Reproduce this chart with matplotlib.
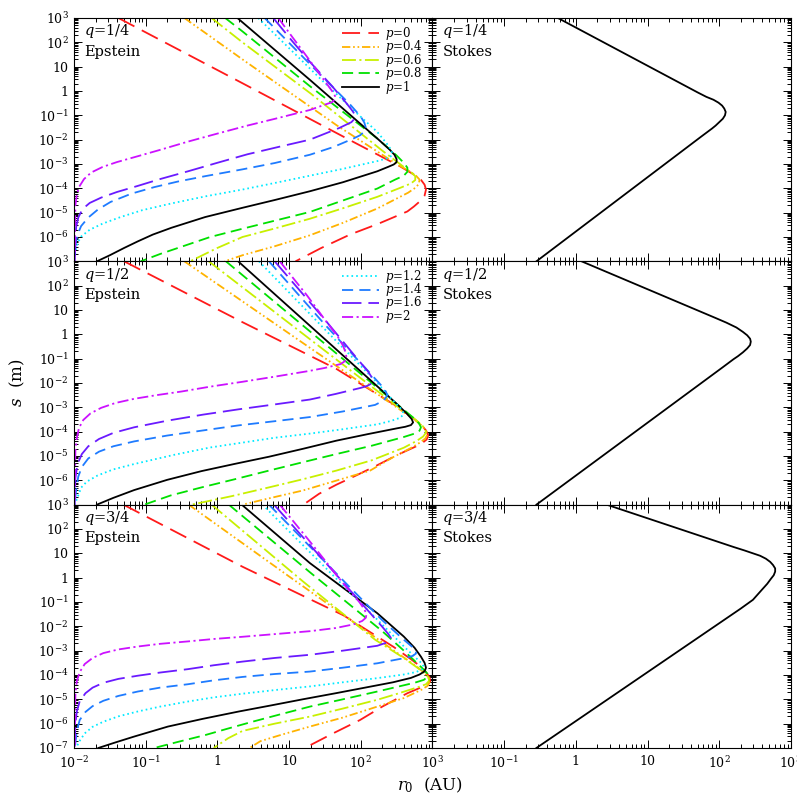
import numpy as np
import matplotlib
matplotlib.use('Agg')
import matplotlib.pyplot as plt
from matplotlib.ticker import LogLocator, FuncFormatter, NullFormatter

plt.rcParams['font.family'] = 'DejaVu Serif'
plt.rcParams['mathtext.fontset'] = 'dejavuserif'
plt.rcParams['lines.scale_dashes'] = False

# p values, styles
P_LABELS = ['0', '0.4', '0.6', '0.8', '1', '1.2', '1.4', '1.6', '2']
COLORS = ['#ff1a1a', '#ffb300', '#c8f000', '#00e000', 'black',
          '#00eaff', '#1e7bff', '#6a1aff', '#cc11ff']
DASHES = [(13, 6), (6, 2, 1.2, 2, 1.2, 2), (10, 2.5, 1.5, 2.5), (8, 4), None,
          (1.2, 2.2), (8, 4.5), (14, 5), (8, 2.5, 1.5, 2.5)]

# curves, as (log10 r0 [AU], log10 s [m])
EPS_Q14 = {
    '0': [(-1.38, 3.0), (0.35, 0.32), (1.85, -2.02), (2.55, -3.1), (2.75, -3.45), (2.84, -3.65),
          (2.89, -3.85), (2.91, -4.05), (2.89, -4.3), (2.83, -4.52), (2.74, -4.75), (2.65, -4.95),
          (2.25, -5.45), (1.85, -5.9), (1.45, -6.45), (1.09, -7.0)],
    '0.4': [(-0.46, 3.0), (0.35, 1.3), (1.66, -1.4), (2.5, -3.0), (2.68, -3.3), (2.77, -3.48),
            (2.82, -3.64), (2.81, -3.82), (2.76, -3.98), (2.66, -4.18), (2.23, -4.83), (1.75, -5.42),
            (1.29, -5.93), (0.8, -6.38), (0.35, -6.75), (0.1, -7.0)],
    '0.6': [(-0.08, 3.0), (0.35, 2.0), (1.30, -0.1), (2.3, -2.45), (2.6, -3.12), (2.7, -3.33),
            (2.76, -3.5), (2.76, -3.66), (2.7, -3.8), (2.55, -3.98), (2.23, -4.35), (1.75, -4.82),
            (1.29, -5.25), (0.8, -5.65), (0.35, -6.0), (0.0, -6.45), (-0.38, -7.0)],
    '0.8': [(0.11, 3.0), (0.35, 2.45), (1.29, 0.2), (2.23, -1.95), (2.5, -2.65), (2.6, -2.95),
            (2.65, -3.15), (2.65, -3.32), (2.6, -3.48), (2.48, -3.64), (2.23, -4.01), (1.75, -4.5),
            (1.29, -4.97), (0.8, -5.33), (0.35, -5.66), (-0.1, -6.0), (-0.5, -6.4), (-0.8, -6.7),
            (-1.07, -7.0)],
    '1': [(0.28, 3.0), (1.29, 0.46), (2.23, -1.95), (2.4, -2.4), (2.47, -2.62), (2.5, -2.8),
          (2.5, -2.92), (2.46, -3.02), (2.38, -3.12), (2.23, -3.3), (1.75, -3.75), (1.29, -4.12),
          (0.8, -4.48), (0.35, -4.8), (-0.17, -5.18), (-0.64, -5.62), (-0.9, -5.9), (-1.11, -6.18),
          (-1.3, -6.45), (-1.5, -6.75), (-1.68, -7.0)],
    '1.2': [(0.57, 3.0), (1.48, 0.38), (1.9, -0.79), (2.23, -1.68), (2.36, -2.15), (2.42, -2.4),
            (2.44, -2.56), (2.42, -2.68), (2.35, -2.78), (2.23, -2.88), (1.75, -3.2), (1.29, -3.48),
            (0.8, -3.78), (0.35, -4.05), (-0.15, -4.32), (-0.64, -4.62), (-1.05, -4.9),
            (-1.35, -5.18), (-1.6, -5.45), (-1.78, -5.7), (-1.9, -5.98), (-1.95, -6.25),
            (-1.98, -6.6), (-1.99, -7.0)],
    '1.4': [(0.66, 3.0), (1.36, 0.9), (1.85, -0.55), (2.0, -1.05), (2.05, -1.3), (2.07, -1.5),
            (2.05, -1.67), (1.99, -1.82), (1.9, -1.95), (1.62, -2.3), (1.29, -2.62), (0.8, -2.96),
            (0.35, -3.22), (-0.17, -3.5), (-0.55, -3.72), (-0.88, -3.95), (-1.2, -4.22),
            (-1.49, -4.56), (-1.67, -4.88), (-1.8, -5.2), (-1.9, -5.55), (-1.95, -5.9),
            (-1.98, -6.3), (-1.99, -7.0)],
    '1.6': [(0.78, 3.0), (1.05, 2.03), (1.29, 1.2), (1.6, 0.2), (1.8, -0.5), (1.88, -0.8),
            (1.92, -0.98), (1.92, -1.12), (1.87, -1.28), (1.7, -1.52), (1.29, -2.0), (0.85, -2.3),
            (0.42, -2.6), (0.0, -2.95), (-0.41, -3.3), (-0.8, -3.62), (-1.11, -3.9), (-1.4, -4.15),
            (-1.62, -4.38), (-1.78, -4.6), (-1.88, -4.85), (-1.94, -5.2), (-1.97, -5.6),
            (-1.99, -7.0)],
    '2': [(0.85, 3.0), (1.05, 2.2), (1.29, 1.25), (1.5, 0.4), (1.6, 0.0), (1.64, -0.2),
          (1.64, -0.35), (1.6, -0.46), (1.52, -0.54), (1.29, -0.78), (0.82, -1.13), (0.42, -1.42),
          (0.0, -1.75), (-0.41, -2.08), (-0.8, -2.42), (-1.11, -2.68), (-1.4, -2.92),
          (-1.6, -3.12), (-1.76, -3.35), (-1.86, -3.62), (-1.93, -3.95), (-1.96, -4.25),
          (-1.98, -4.7), (-1.99, -7.0)],
}

EPS_Q12 = {
    '0': [(-1.30, 3.0), (0.35, 0.5), (1.66, -1.42), (2.5, -2.95), (2.72, -3.42), (2.84, -3.7),
          (2.91, -3.95), (2.94, -4.15), (2.92, -4.32), (2.86, -4.46), (2.79, -4.58), (2.5, -4.97),
          (2.23, -5.38), (1.95, -5.78), (1.66, -6.18), (1.42, -6.55), (1.2, -7.0)],
    '0.4': [(-0.46, 3.0), (1.2, -0.37), (2.55, -3.1), (2.74, -3.48), (2.85, -3.75), (2.91, -3.95),
            (2.93, -4.12), (2.9, -4.28), (2.83, -4.44), (2.72, -4.64), (2.45, -5.05), (2.13, -5.6),
            (1.65, -6.02), (1.19, -6.42), (0.75, -6.72), (0.35, -7.0)],
    '0.6': [(-0.12, 3.0), (1.3, -0.22), (2.55, -3.05), (2.74, -3.45), (2.85, -3.72), (2.9, -3.9),
            (2.91, -4.04), (2.87, -4.2), (2.78, -4.38), (2.6, -4.66), (2.15, -5.18), (1.66, -5.6),
            (1.2, -5.95), (0.72, -6.29), (0.2, -6.65), (-0.36, -7.0)],
    '0.8': [(0.12, 3.0), (1.3, 0.1), (2.6, -3.1), (2.73, -3.42), (2.81, -3.65), (2.84, -3.82),
            (2.82, -3.96), (2.75, -4.08), (2.6, -4.22), (2.15, -4.58), (1.66, -4.92), (1.2, -5.25),
            (0.72, -5.6), (0.25, -5.95), (-0.22, -6.29), (-0.65, -6.62), (-1.02, -7.0)],
    '1': [(0.29, 3.0), (1.5, -0.2), (2.5, -2.85), (2.64, -3.25), (2.71, -3.48), (2.73, -3.62),
          (2.7, -3.73), (2.62, -3.8), (2.51, -3.86), (2.1, -4.1), (1.66, -4.37), (1.2, -4.7),
          (0.72, -5.03), (0.25, -5.32), (-0.22, -5.62), (-0.7, -5.98), (-1.16, -6.4),
          (-1.45, -6.72), (-1.68, -7.0)],
    '1.2': [(0.58, 3.0), (1.5, 0.2), (2.2, -1.9), (2.46, -2.75), (2.55, -3.02), (2.59, -3.2),
            (2.59, -3.32), (2.54, -3.44), (2.42, -3.56), (2.23, -3.7), (1.75, -3.9), (1.29, -4.08),
            (0.8, -4.25), (0.35, -4.45), (-0.1, -4.65), (-0.6, -4.95), (-1.16, -5.33),
            (-1.45, -5.55), (-1.67, -5.8), (-1.82, -6.05), (-1.9, -6.3), (-1.95, -6.7), (-1.99, -7.0)],
    '1.4': [(0.72, 3.0), (1.5, 0.4), (2.1, -1.5), (2.28, -2.08), (2.35, -2.35), (2.37, -2.5),
            (2.34, -2.65), (2.28, -2.78), (2.2, -2.9), (1.75, -3.17), (1.29, -3.4), (0.8, -3.57),
            (0.3, -3.74), (-0.2, -3.95), (-0.7, -4.16), (-1.16, -4.4), (-1.45, -4.6),
            (-1.65, -4.82), (-1.8, -5.1), (-1.89, -5.45), (-1.94, -5.85), (-1.97, -6.4), (-1.99, -7.0)],
    '1.6': [(0.80, 3.0), (1.5, 0.6), (1.95, -1.0), (2.1, -1.52), (2.15, -1.75), (2.17, -1.9),
            (2.15, -2.02), (2.09, -2.12), (2.0, -2.2), (1.65, -2.45), (1.29, -2.68), (0.8, -2.88),
            (0.3, -3.08), (-0.2, -3.3), (-0.7, -3.55), (-1.16, -3.82), (-1.45, -4.05),
            (-1.65, -4.3), (-1.8, -4.6), (-1.89, -4.92), (-1.95, -5.33), (-1.98, -5.9), (-1.99, -7.0)],
    '2': [(0.87, 3.0), (1.25, 1.6), (1.5, 0.6), (1.68, -0.1), (1.75, -0.45), (1.79, -0.75),
          (1.8, -0.95), (1.78, -1.1), (1.72, -1.22), (1.5, -1.38), (1.29, -1.5), (0.8, -1.74),
          (0.35, -1.95), (-0.1, -2.15), (-0.5, -2.35), (-0.85, -2.5), (-1.16, -2.65), (-1.42, -2.82),
          (-1.62, -3.02), (-1.77, -3.25), (-1.87, -3.52), (-1.93, -3.85), (-1.96, -4.25),
          (-1.98, -4.8), (-1.99, -7.0)],
}

EPS_Q34 = {
    '0': [(-1.31, 3.0), (0.35, 0.45), (1.76, -1.55), (2.46, -2.85), (2.7, -3.35), (2.82, -3.62),
          (2.91, -3.88), (2.96, -4.1), (2.97, -4.25), (2.94, -4.38), (2.85, -4.5), (2.65, -4.75),
          (2.3, -5.3), (1.99, -5.85), (1.6, -6.42), (1.22, -7.0)],
    '0.4': [(-0.40, 3.0), (1.0, 0.05), (2.2, -2.45), (2.6, -3.28), (2.78, -3.65), (2.9, -3.95),
            (2.95, -4.15), (2.96, -4.3), (2.93, -4.45), (2.85, -4.6), (2.6, -4.95), (2.23, -5.3),
            (1.75, -5.75), (1.29, -6.12), (0.9, -6.45), (0.6, -6.72), (0.45, -7.0)],
    '0.6': [(-0.08, 3.0), (1.2, -0.17), (2.2, -2.55), (2.6, -3.3), (2.78, -3.68), (2.9, -3.95),
            (2.95, -4.12), (2.95, -4.25), (2.91, -4.38), (2.8, -4.5), (2.5, -4.78), (2.23, -5.02),
            (1.75, -5.38), (1.29, -5.71), (0.8, -6.0), (0.35, -6.3), (0.15, -6.6), (-0.05, -7.0)],
    '0.8': [(0.16, 3.0), (1.3, 0.2), (2.3, -2.2), (2.62, -3.05), (2.78, -3.5), (2.88, -3.78),
            (2.93, -3.95), (2.93, -4.08), (2.88, -4.2), (2.75, -4.32), (2.23, -4.68), (1.75, -5.0),
            (1.29, -5.3), (0.9, -5.6), (0.49, -5.92), (0.15, -6.2), (-0.17, -6.47), (-0.55, -6.75),
            (-0.88, -7.0)],
    '1': [(0.34, 3.0), (1.29, 0.6), (2.23, -1.46), (2.6, -2.42), (2.75, -2.88), (2.84, -3.25),
          (2.89, -3.5), (2.91, -3.7), (2.89, -3.85), (2.82, -3.98), (2.7, -4.12), (2.45, -4.3),
          (2.13, -4.48), (1.65, -4.75), (1.19, -5.0), (0.75, -5.25), (0.3, -5.5), (-0.2, -5.8),
          (-0.69, -6.12), (-1.16, -6.53), (-1.42, -6.77), (-1.66, -7.0)],
    '1.2': [(0.63, 3.0), (1.5, 0.43), (2.3, -1.93), (2.62, -2.88), (2.77, -3.3), (2.85, -3.52),
            (2.88, -3.66), (2.85, -3.78), (2.77, -3.88), (2.6, -3.98), (2.23, -4.13), (1.75, -4.3),
            (1.29, -4.47), (0.8, -4.62), (0.35, -4.77), (-0.05, -4.92), (-0.41, -5.09), (-0.8, -5.3),
            (-1.11, -5.5), (-1.38, -5.7), (-1.59, -5.92), (-1.74, -6.13), (-1.85, -6.4),
            (-1.93, -6.75), (-1.97, -7.0)],
    '1.4': [(0.72, 3.0), (1.5, 0.65), (2.3, -1.75), (2.6, -2.55), (2.72, -2.85), (2.77, -3.0),
            (2.77, -3.12), (2.72, -3.22), (2.62, -3.3), (2.23, -3.52), (1.75, -3.7), (1.29, -3.86),
            (0.8, -3.96), (0.35, -4.08), (-0.05, -4.22), (-0.41, -4.38), (-0.8, -4.52),
            (-1.11, -4.68), (-1.38, -4.86), (-1.59, -5.06), (-1.74, -5.28), (-1.84, -5.52),
            (-1.92, -5.85), (-1.96, -6.3), (-1.98, -6.8), (-1.99, -7.0)],
    '1.6': [(0.79, 3.0), (1.5, 0.65), (2.1, -1.35), (2.3, -2.02), (2.38, -2.3), (2.42, -2.47),
            (2.41, -2.58), (2.36, -2.67), (2.23, -2.8), (1.75, -3.0), (1.29, -3.17), (0.8, -3.3),
            (0.35, -3.45), (-0.05, -3.6), (-0.41, -3.76), (-0.8, -3.9), (-1.11, -4.03),
            (-1.38, -4.16), (-1.59, -4.32), (-1.74, -4.52), (-1.84, -4.75), (-1.92, -5.08),
            (-1.96, -5.5), (-1.98, -6.0), (-1.99, -7.0)],
    '2': [(0.87, 3.0), (1.3, 1.45), (1.8, -0.4), (1.98, -1.0), (2.05, -1.3), (2.08, -1.5),
          (2.07, -1.65), (2.02, -1.78), (1.9, -1.92), (1.65, -2.07), (1.29, -2.2), (0.8, -2.32),
          (0.35, -2.43), (-0.05, -2.52), (-0.41, -2.62), (-0.8, -2.72), (-1.11, -2.83),
          (-1.38, -2.95), (-1.59, -3.1), (-1.74, -3.3), (-1.85, -3.55), (-1.92, -3.88),
          (-1.96, -4.25), (-1.98, -4.8), (-1.99, -7.0)],
}

STOKES_Q14 = [(-0.25, 3.0), (1.7, -0.06), (1.82, -0.24), (1.92, -0.36), (1.99, -0.48),
              (2.04, -0.6), (2.07, -0.72), (2.09, -0.86), (2.08, -1.0), (2.05, -1.14),
              (2.0, -1.28), (1.95, -1.42), (1.9, -1.54), (1.75, -1.87), (-0.55, -7.0)]
STOKES_Q12 = [(0.08, 3.0), (1.95, 0.67), (2.1, 0.48), (2.24, 0.28), (2.33, 0.1), (2.39, -0.04),
              (2.43, -0.18), (2.44, -0.3), (2.43, -0.44), (2.39, -0.58), (2.33, -0.74),
              (2.26, -0.9), (2.2, -1.02), (2.05, -1.35), (-0.55, -7.0)]
STOKES_Q34 = [(0.43, 3.0), (2.2, 1.26), (2.35, 1.12), (2.47, 1.0), (2.57, 0.9), (2.65, 0.78),
              (2.71, 0.65), (2.75, 0.52), (2.78, 0.38), (2.78, 0.25), (2.76, 0.1), (2.72, -0.05),
              (2.67, -0.25), (2.6, -0.48), (2.47, -0.91), (2.3, -1.27), (-0.55, -7.0)]

Q_LABELS = ['1/4', '1/2', '3/4']
EPS_PANELS = [EPS_Q14, EPS_Q12, EPS_Q34]
STOKES_PANELS = [STOKES_Q14, STOKES_Q12, STOKES_Q34]


def tick_fmt(hide):
    def f(v, pos):
        e = int(round(np.log10(v)))
        if e in hide:
            return ''
        if e == 0:
            return '1'
        if e == 1:
            return '10'
        return r'$10^{%d}$' % e
    return f


def style_axes(ax, row, col):
    ax.set_xscale('log')
    ax.set_yscale('log')
    ax.set_xlim(1e-2, 1e3)
    ax.set_ylim(1e-7, 1e3)
    ax.xaxis.set_major_locator(LogLocator(base=10, numticks=20))
    ax.yaxis.set_major_locator(LogLocator(base=10, numticks=20))
    ax.xaxis.set_minor_locator(LogLocator(base=10, subs=np.arange(2, 10), numticks=100))
    ax.yaxis.set_minor_locator(LogLocator(base=10, subs=np.arange(2, 10), numticks=100))
    ax.xaxis.set_minor_formatter(NullFormatter())
    ax.yaxis.set_minor_formatter(NullFormatter())
    ax.tick_params(which='both', direction='in', top=True, right=True, labelsize=9, width=0.7)
    ax.tick_params(which='major', length=6)
    ax.tick_params(which='minor', length=3)
    ax.tick_params(axis='y', pad=4)
    ax.tick_params(axis='x', pad=5)
    if col == 0:
        ax.yaxis.set_major_formatter(FuncFormatter(tick_fmt([] if row == 2 else [-7])))
    else:
        ax.yaxis.set_major_formatter(NullFormatter())
    if row == 2:
        ax.xaxis.set_major_formatter(FuncFormatter(tick_fmt([] if col == 0 else [-2])))
    else:
        ax.xaxis.set_major_formatter(NullFormatter())
    for sp in ax.spines.values():
        sp.set_linewidth(0.8)


fig = plt.figure(figsize=(7.97, 7.97), dpi=100)
L, W = 0.0928, 0.4498
B, H = 0.0615, 0.3053

# hand-placed legend rows (axes fractions)
LEG_ROWS = {0: [0.938, 0.882, 0.827, 0.772, 0.716], 1: [0.938, 0.883, 0.829, 0.773]}

for row in range(3):
    bottom = B + (2 - row) * H
    ax_e = fig.add_axes([L, bottom, W, H])
    ax_s = fig.add_axes([L + W, bottom, W, H])

    curves = EPS_PANELS[row]
    for i, lab in enumerate(P_LABELS):
        pts = np.array(curves[lab])
        line, = ax_e.plot(10 ** pts[:, 0], 10 ** pts[:, 1], color=COLORS[i], lw=1.3)
        if DASHES[i] is not None:
            line.set_dashes(DASHES[i])

    pts = np.array(STOKES_PANELS[row])
    ax_s.plot(10 ** pts[:, 0], 10 ** pts[:, 1], color='black', lw=1.3)

    for ax, name in [(ax_e, 'Epstein'), (ax_s, 'Stokes')]:
        style_axes(ax, row, 0 if ax is ax_e else 1)
        ax.text(0.028, 0.945, r'$q$=' + Q_LABELS[row], transform=ax.transAxes,
                fontsize=10.5, va='center', ha='left')
        ax.text(0.028, 0.862, name, transform=ax.transAxes,
                fontsize=10.5, va='center', ha='left')

    if row in LEG_ROWS:
        idx = range(0, 5) if row == 0 else range(5, 9)
        for k, i in enumerate(idx):
            yy = LEG_ROWS[row][k]
            ln, = ax_e.plot([0.747, 0.852], [yy, yy], transform=ax_e.transAxes,
                            color=COLORS[i], lw=1.3)
            if DASHES[i] is not None:
                ln.set_dashes(DASHES[i])
            ax_e.text(0.868, yy, r'$p$=' + P_LABELS[i], transform=ax_e.transAxes,
                      fontsize=8.5, va='center', ha='left')

fig.text(0.022, 0.52, r'$s$  (m)', rotation=90, fontsize=12, ha='center', va='center')
fig.text(0.54, 0.015, r'$r_0$  (AU)', fontsize=12, ha='center', va='center')

fig.savefig('out.png', dpi=100)
